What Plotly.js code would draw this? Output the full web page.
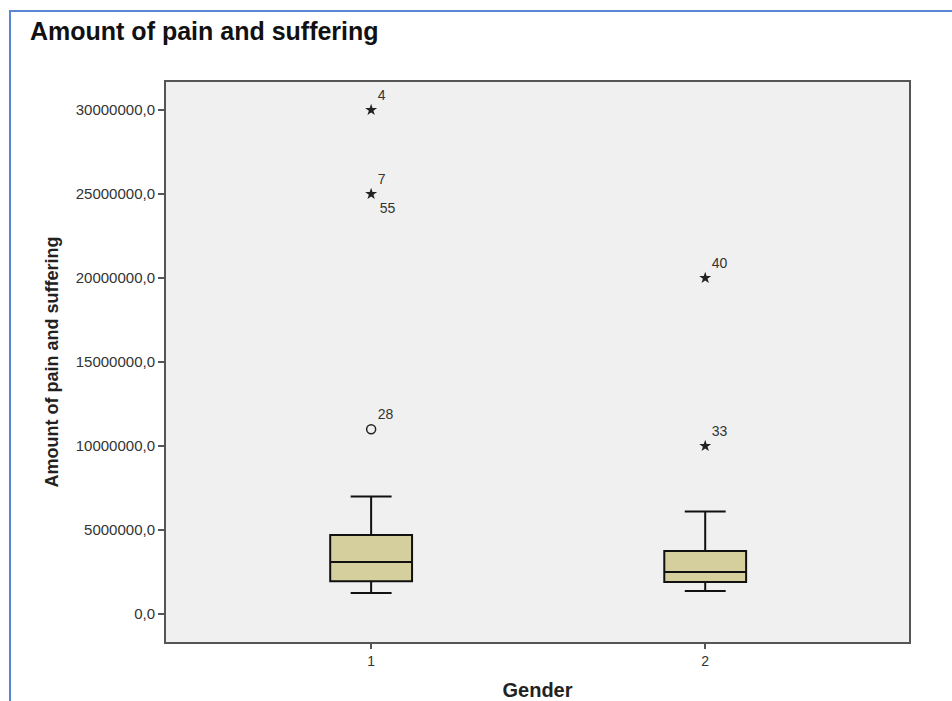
<!DOCTYPE html>
<html>
<head>
<meta charset="utf-8">
<script src="https://cdn.plot.ly/plotly-3.0.1.min.js"></script>
<style>
html,body{margin:0;padding:0;background:#fff;}
#frame{position:absolute;left:9px;top:10px;width:960px;height:700px;border-left:2px solid #5b86d6;border-top:2px solid #5b86d6;pointer-events:none;z-index:5;}
#chart{position:absolute;left:0;top:0;width:952px;height:701px;}
</style>
</head>
<body>
<div id="chart"></div>
<div id="frame"></div>
<script>
// Data
const genders = ["1", "2"];
const q1 = [1950000, 1900000];
const medians = [3100000, 2500000];
const q3 = [4700000, 3750000];
const lowerWhisker = [1250000, 1370000];
const upperWhisker = [7000000, 6100000];

// Outliers
const extremeGender = ["1", "1", "2", "2"];
const extremeValue = [30000000, 25000000, 20000000, 10000000];
const extremeLabel = ["4", "7", "40", "33"];
const extremeBelowGender = ["1"];
const extremeBelowValue = [25000000];
const extremeBelowLabel = ["55"];
const outlierGender = ["1"];
const outlierValue = [11000000];
const outlierLabel = ["28"];

const yTickVals = [0, 5000000, 10000000, 15000000, 20000000, 25000000, 30000000];
const yTickText = ["0,0", "5000000,0", "10000000,0", "15000000,0", "20000000,0", "25000000,0", "30000000,0"];

const labelFont = {family: "Arial, Liberation Sans, sans-serif", size: 14, color: "#333"};
const tickFont = {family: "Arial, Liberation Sans, sans-serif", size: 15, color: "#333"};

const traces = [
  {
    type: "box",
    x: genders,
    q1: q1,
    median: medians,
    q3: q3,
    lowerfence: lowerWhisker,
    upperfence: upperWhisker,
    fillcolor: "#d4cf9c",
    line: {color: "#111", width: 2},
    width: 0.245,
    whiskerwidth: 0.5,
    boxpoints: false,
    hoverinfo: "skip",
    showlegend: false
  },
  {
    type: "scatter",
    mode: "markers+text",
    x: extremeGender,
    y: extremeValue,
    text: extremeLabel,
    textposition: "top right",
    textfont: labelFont,
    marker: {symbol: "star", size: 9, color: "#222"},
    showlegend: false,
    cliponaxis: false
  },
  {
    type: "scatter",
    mode: "markers+text",
    x: extremeBelowGender,
    y: extremeBelowValue,
    text: extremeBelowLabel,
    textposition: "bottom right",
    textfont: labelFont,
    marker: {size: 12, opacity: 0},
    showlegend: false
  },
  {
    type: "scatter",
    mode: "markers+text",
    x: outlierGender,
    y: outlierValue,
    text: outlierLabel,
    textposition: "top right",
    textfont: labelFont,
    marker: {symbol: "circle-open", size: 9, color: "#222", line: {width: 1.5}},
    showlegend: false
  }
];

const layout = {
  width: 952,
  height: 701,
  paper_bgcolor: "#ffffff",
  plot_bgcolor: "#f0f0f0",
  margin: {l: 166, r: 43, t: 82, b: 59},
  title: {
    text: "<b>Amount of pain and suffering</b>",
    x: 30 / 952, xanchor: "left",
    y: 1 - 31 / 701, yanchor: "middle",
    font: {family: "Arial, Liberation Sans, sans-serif", size: 25, color: "#111"}
  },
  xaxis: {
    type: "category",
    range: [-0.614, 1.61],
    showgrid: false,
    zeroline: false,
    showline: true,
    linecolor: "#555",
    linewidth: 2,
    mirror: true,
    ticks: "outside",
    ticklen: 5,
    tickwidth: 1.5,
    tickcolor: "#555",
    tickfont: labelFont,
    title: {
      text: "<b>Gender</b>",
      font: {family: "Arial, Liberation Sans, sans-serif", size: 20, color: "#222"},
      standoff: 16
    }
  },
  yaxis: {
    range: [-1666667, 31666667],
    tickvals: yTickVals,
    ticktext: yTickText,
    showgrid: false,
    zeroline: false,
    showline: true,
    linecolor: "#555",
    linewidth: 2,
    mirror: true,
    ticks: "outside",
    ticklen: 6,
    tickwidth: 1.5,
    tickcolor: "#555",
    tickfont: tickFont,
    title: {
      text: "<b>Amount of pain and suffering</b>",
      font: {family: "Arial, Liberation Sans, sans-serif", size: 18, color: "#222"},
      standoff: 12
    }
  }
};

Plotly.newPlot("chart", traces, layout, {displayModeBar: false, staticPlot: true});
</script>
</body>
</html>
